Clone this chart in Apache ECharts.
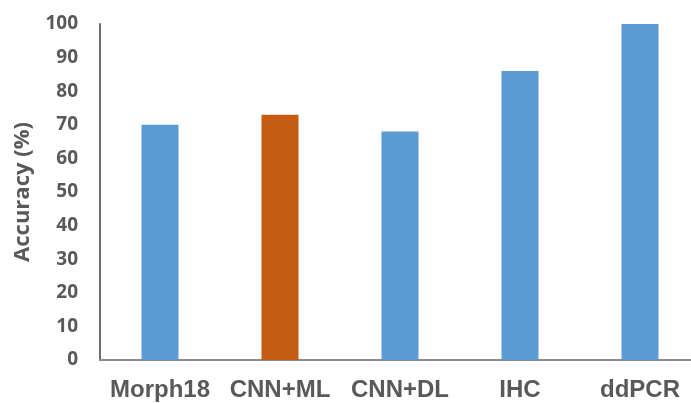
<!DOCTYPE html>
<html><head><meta charset="utf-8">
<script src="https://cdn.jsdelivr.net/npm/echarts@6/dist/echarts.min.js"></script>
<style>html,body{margin:0;padding:0;background:#fff;overflow:hidden}#c{width:700px;height:403px}</style>
</head><body><div id="c"></div>
<script>
const categories = ['Morph18', 'CNN+ML', 'CNN+DL', 'IHC', 'ddPCR'];
const accuracy = [70, 73, 68, 86, 100];
const barColors = ['#5B9BD5', '#C55A11', '#5B9BD5', '#5B9BD5', '#5B9BD5'];
const yTicks = { min: 0, max: 100, interval: 10 };

const chart = echarts.init(document.getElementById('c'), null, { renderer: 'canvas' });
chart.setOption({
  animation: false,
  grid: { left: 100, right: 0, top: 24, bottom: 43, containLabel: false, outerBoundsMode: 'none' },
  xAxis: {
    type: 'category', data: categories,
    axisLine: { lineStyle: { color: '#8c8c8c', width: 2 } },
    axisTick: { show: false },
    axisLabel: { color: '#595959', fontSize: 24, fontWeight: 'bold', fontFamily: 'Liberation Sans', margin: 18, interval: 0 }
  },
  yAxis: {
    type: 'value', min: yTicks.min, max: yTicks.max, interval: yTicks.interval,
    name: 'Accuracy (%)', nameLocation: 'middle', nameGap: 66,
    nameTextStyle: { color: '#595959', fontSize: 22, fontWeight: 'bold', fontFamily: 'Open Sans' },
    axisLine: { show: true, lineStyle: { color: '#6e6e6e', width: 2 } },
    axisTick: { show: false },
    splitLine: { show: false },
    axisLabel: { color: '#595959', fontSize: 19, fontWeight: 'bold', fontFamily: 'Open Sans', margin: 22 }
  },
  series: [{
    type: 'bar', barWidth: 37,
    data: accuracy.map((v, i) => ({ value: v, itemStyle: { color: barColors[i] } }))
  }]
});
</script></body></html>
